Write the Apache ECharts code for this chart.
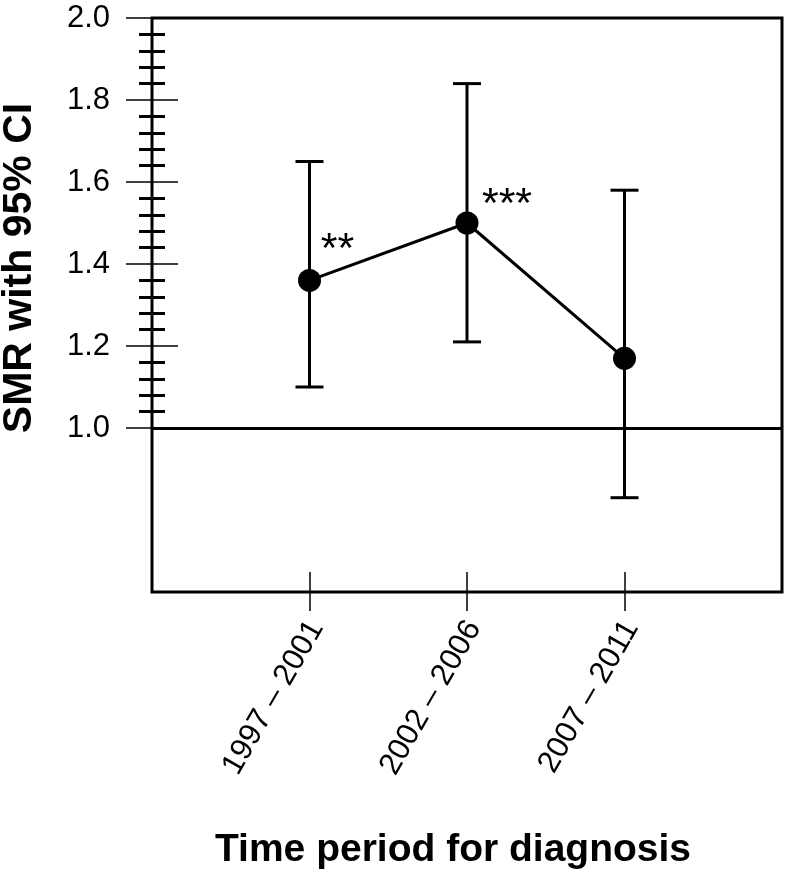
<!DOCTYPE html>
<html>
<head>
<meta charset="utf-8">
<script src="https://cdn.jsdelivr.net/npm/echarts@6/dist/echarts.min.js"></script>
<style>html,body{margin:0;padding:0;background:#fff;}#c{width:790px;height:878px;}</style>
</head>
<body>
<div id="c"></div>
<script>
// ---- data ----
const periods = ['1997 – 2001', '2002 – 2006', '2007 – 2011'];
const smr = [1.36, 1.50, 1.17];
const ciLower = [1.10, 1.21, 0.83];
const ciUpper = [1.65, 1.84, 1.58];
const stars = ['**', '***', ''];
const yTickLabels = [1.0, 1.2, 1.4, 1.6, 1.8, 2.0];
const xLabel = 'Time period for diagnosis';
const yLabel = 'SMR with 95% CI';

const FONT = '"Liberation Sans", Arial, Helvetica, sans-serif';
const chart = echarts.init(document.getElementById('c'), null, {renderer: 'canvas'});

const starOffsets = [[28, -30], [40, -18], [0, 0]];
const pointData = periods.map((p, i) => ({
  value: [i + 1, smr[i]],
  label: {offset: starOffsets[i]}
}));
const errData = periods.map((p, i) => [i + 1, ciLower[i], ciUpper[i]]);

const gridPos = {left: 152, right: 8};
const yMinor = {show: true, splitNumber: 5, length: 13, lineStyle: {color: '#000', width: 3}};

const option = {
  animation: false,
  backgroundColor: '#fff',
  grid: [
    {left: gridPos.left, right: gridPos.right, top: 18, bottom: 286, show: true,
     borderColor: '#000', borderWidth: 3, backgroundColor: 'transparent', outerBoundsMode: 'none', containLabel: false},
    {left: gridPos.left, right: gridPos.right, top: 18, bottom: 450, show: false, outerBoundsMode: 'none', containLabel: false}
  ],
  xAxis: [
    {type: 'value', gridIndex: 0, position: 'bottom', min: 0, max: 4, interval: 1,
     axisLine: {show: false}, splitLine: {show: false},
     axisTick: {show: true, customValues: [1, 2, 3], length: 19, lineStyle: {color: '#000', width: 1.5}},
     axisLabel: {show: true, customValues: [1, 2, 3], rotate: 60, margin: 27,
       verticalAlign: 'top', lineHeight: 16,
       formatter: v => periods[Math.round(v) - 1] || '',
       color: '#000', fontSize: 31, fontFamily: FONT}},
    {type: 'value', gridIndex: 0, position: 'bottom', min: 0, max: 4, interval: 1,
     axisLine: {show: false}, splitLine: {show: false}, axisLabel: {show: false},
     axisTick: {show: true, inside: true, customValues: [1, 2, 3], length: 20, lineStyle: {color: '#000', width: 1.5}}},
    {type: 'value', gridIndex: 1, min: 0, max: 4, show: false}
  ],
  yAxis: [
    {type: 'value', gridIndex: 0, min: 0.6, max: 2.0, show: false},
    {type: 'value', gridIndex: 1, position: 'left', min: 1.0, max: 2.0, interval: 0.2,
     axisLine: {show: false}, splitLine: {show: false}, minorSplitLine: {show: false},
     axisTick: {show: true, length: 26, lineStyle: {color: '#000', width: 1.5}},
     minorTick: yMinor,
     axisLabel: {show: true, margin: 42, color: '#000', fontSize: 31, fontFamily: FONT,
       customValues: yTickLabels, formatter: v => Number(v).toFixed(1)}},
    {type: 'value', gridIndex: 1, position: 'left', min: 1.0, max: 2.0, interval: 0.2,
     axisLine: {show: false}, splitLine: {show: false}, minorSplitLine: {show: false},
     axisTick: {show: true, inside: true, length: 26, lineStyle: {color: '#000', width: 1.5}},
     minorTick: yMinor, axisLabel: {show: false}}
  ],
  series: [
    {
      type: 'custom', xAxisIndex: 0, yAxisIndex: 0, z: 2,
      data: errData,
      renderItem: function (params, api) {
        const top = api.coord([api.value(0), api.value(2)]);
        const bot = api.coord([api.value(0), api.value(1)]);
        const hw = 14;
        const st = {stroke: '#000', lineWidth: 3, fill: null};
        return {type: 'group', children: [
          {type: 'line', shape: {x1: top[0], y1: top[1], x2: bot[0], y2: bot[1]}, style: st},
          {type: 'line', shape: {x1: top[0] - hw, y1: top[1], x2: top[0] + hw, y2: top[1]}, style: st},
          {type: 'line', shape: {x1: bot[0] - hw, y1: bot[1], x2: bot[0] + hw, y2: bot[1]}, style: st}
        ]};
      }
    },
    {
      type: 'line', xAxisIndex: 0, yAxisIndex: 0, z: 3,
      data: pointData,
      symbol: 'circle', symbolSize: 23,
      itemStyle: {color: '#000'},
      lineStyle: {color: '#000', width: 3},
      label: {show: true, position: 'inside', align: 'center', verticalAlign: 'middle',
        formatter: p => stars[p.dataIndex], color: '#000', fontSize: 43, fontFamily: FONT},
      markLine: {silent: true, symbol: 'none', label: {show: false},
        lineStyle: {color: '#000', width: 3, type: 'solid'},
        data: [{yAxis: 1.0}]}
    }
  ],
  graphic: [
    {type: 'text', x: 20, y: 268, rotation: Math.PI / 2,
     style: {text: yLabel, fill: '#000', font: 'bold 41px ' + FONT, align: 'center', verticalAlign: 'middle'}},
    {type: 'text', x: 453, y: 850,
     style: {text: xLabel, fill: '#000', font: 'bold 39px ' + FONT, align: 'center', verticalAlign: 'middle'}}
  ]
};
chart.setOption(option);
</script>
</body>
</html>
